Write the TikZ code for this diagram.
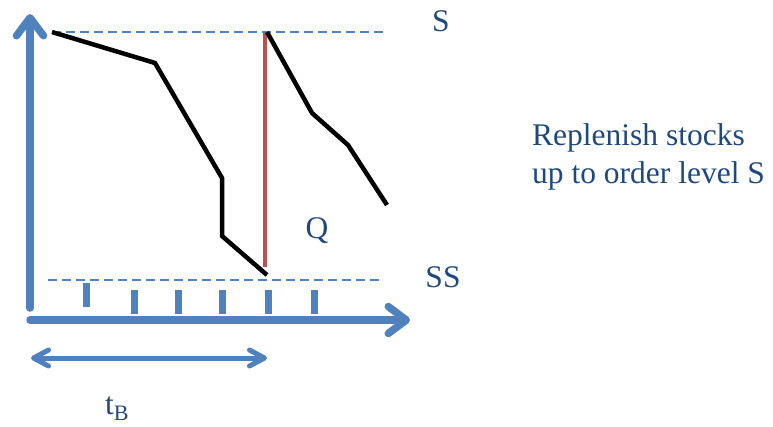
\documentclass[tikz,border=0pt]{standalone}
\usepackage{fontspec}
\setmainfont{Liberation Serif}
\usetikzlibrary{arrows.meta}
\definecolor{axisblue}{RGB}{79,129,189}
\definecolor{textblue}{RGB}{31,73,125}
\definecolor{orderred}{RGB}{192,80,77}
\tikzset{
  axis/.style={axisblue, line width=7.5pt, line cap=round,
    -{Straight Barb[length=18pt,width=27pt,round]}},
  span/.style={axisblue, line width=5pt,
    {Straight Barb[length=15pt,width=16pt,round]}-{Straight Barb[length=15pt,width=16pt,round]}},
  level/.style={axisblue, line width=1.3pt, dash pattern=on 9pt off 5pt},
  tick/.style={axisblue, line width=7pt},
  stock/.style={black, line width=4.5pt, line join=miter},
  lbl/.style={textblue, font=\fontsize{31.5}{38}\selectfont, inner sep=0pt}
}
\begin{document}
\begin{tikzpicture}[x=1pt,y=-1pt]
  \useasboundingbox (0,0) rectangle (773,426);
  % axes
  \coordinate (O) at (30,320);
  \coordinate (Ytop) at (30,14);
  \coordinate (Ybot) at (30,308);
  \coordinate (Xend) at (410,320);
  \draw[axis] (Ybot) -- (Ytop);
  \draw[axis] (O) -- (Xend);
  % order level S and safety stock SS
  \coordinate (Sl) at (52,32);
  \coordinate (Sr) at (387,32);
  \coordinate (SSl) at (48,280);
  \coordinate (SSr) at (383,280);
  \draw[level] (Sl) -- (Sr);
  \draw[level] (SSl) -- (SSr);
  % review instants
  \draw[tick] (86,283) -- (86,307);
  \foreach \x in {134,178,222,268,314}
    \draw[tick] (\x,290) -- (\x,314);
  % review period
  \coordinate (Ta) at (31,358);
  \coordinate (Tb) at (267,358);
  \draw[span] (Ta) -- (Tb);
  % stock level
  \coordinate (P1) at (155,63);
  \coordinate (P2) at (222,178);
  \coordinate (P3) at (222,236);
  \coordinate (R) at (267,275);
  \coordinate (Rt) at (267,32);
  \coordinate (P4) at (312,113);
  \coordinate (P5) at (348,145);
  \coordinate (P6) at (387,205);
  \draw[orderred, line width=4pt] (265,267) -- (265,33);
  \draw[stock] (Sl) -- (P1) -- (P2) -- (P3) -- (R);
  \draw[stock] (Rt) -- (P4) -- (P5) -- (P6);
  % labels
  \node[lbl] (S) at (441,21) {S};
  \node[lbl] (SS) at (443,277) {SS};
  \node[lbl] (Q) at (317,231) {Q};
  \node[lbl, anchor=west, align=left] (note) at (532,157)
    {Replenish stocks\\up to order level S};
  \node[lbl] (tB) at (117,409) {t\textsubscript{B}};
\end{tikzpicture}
\end{document}
